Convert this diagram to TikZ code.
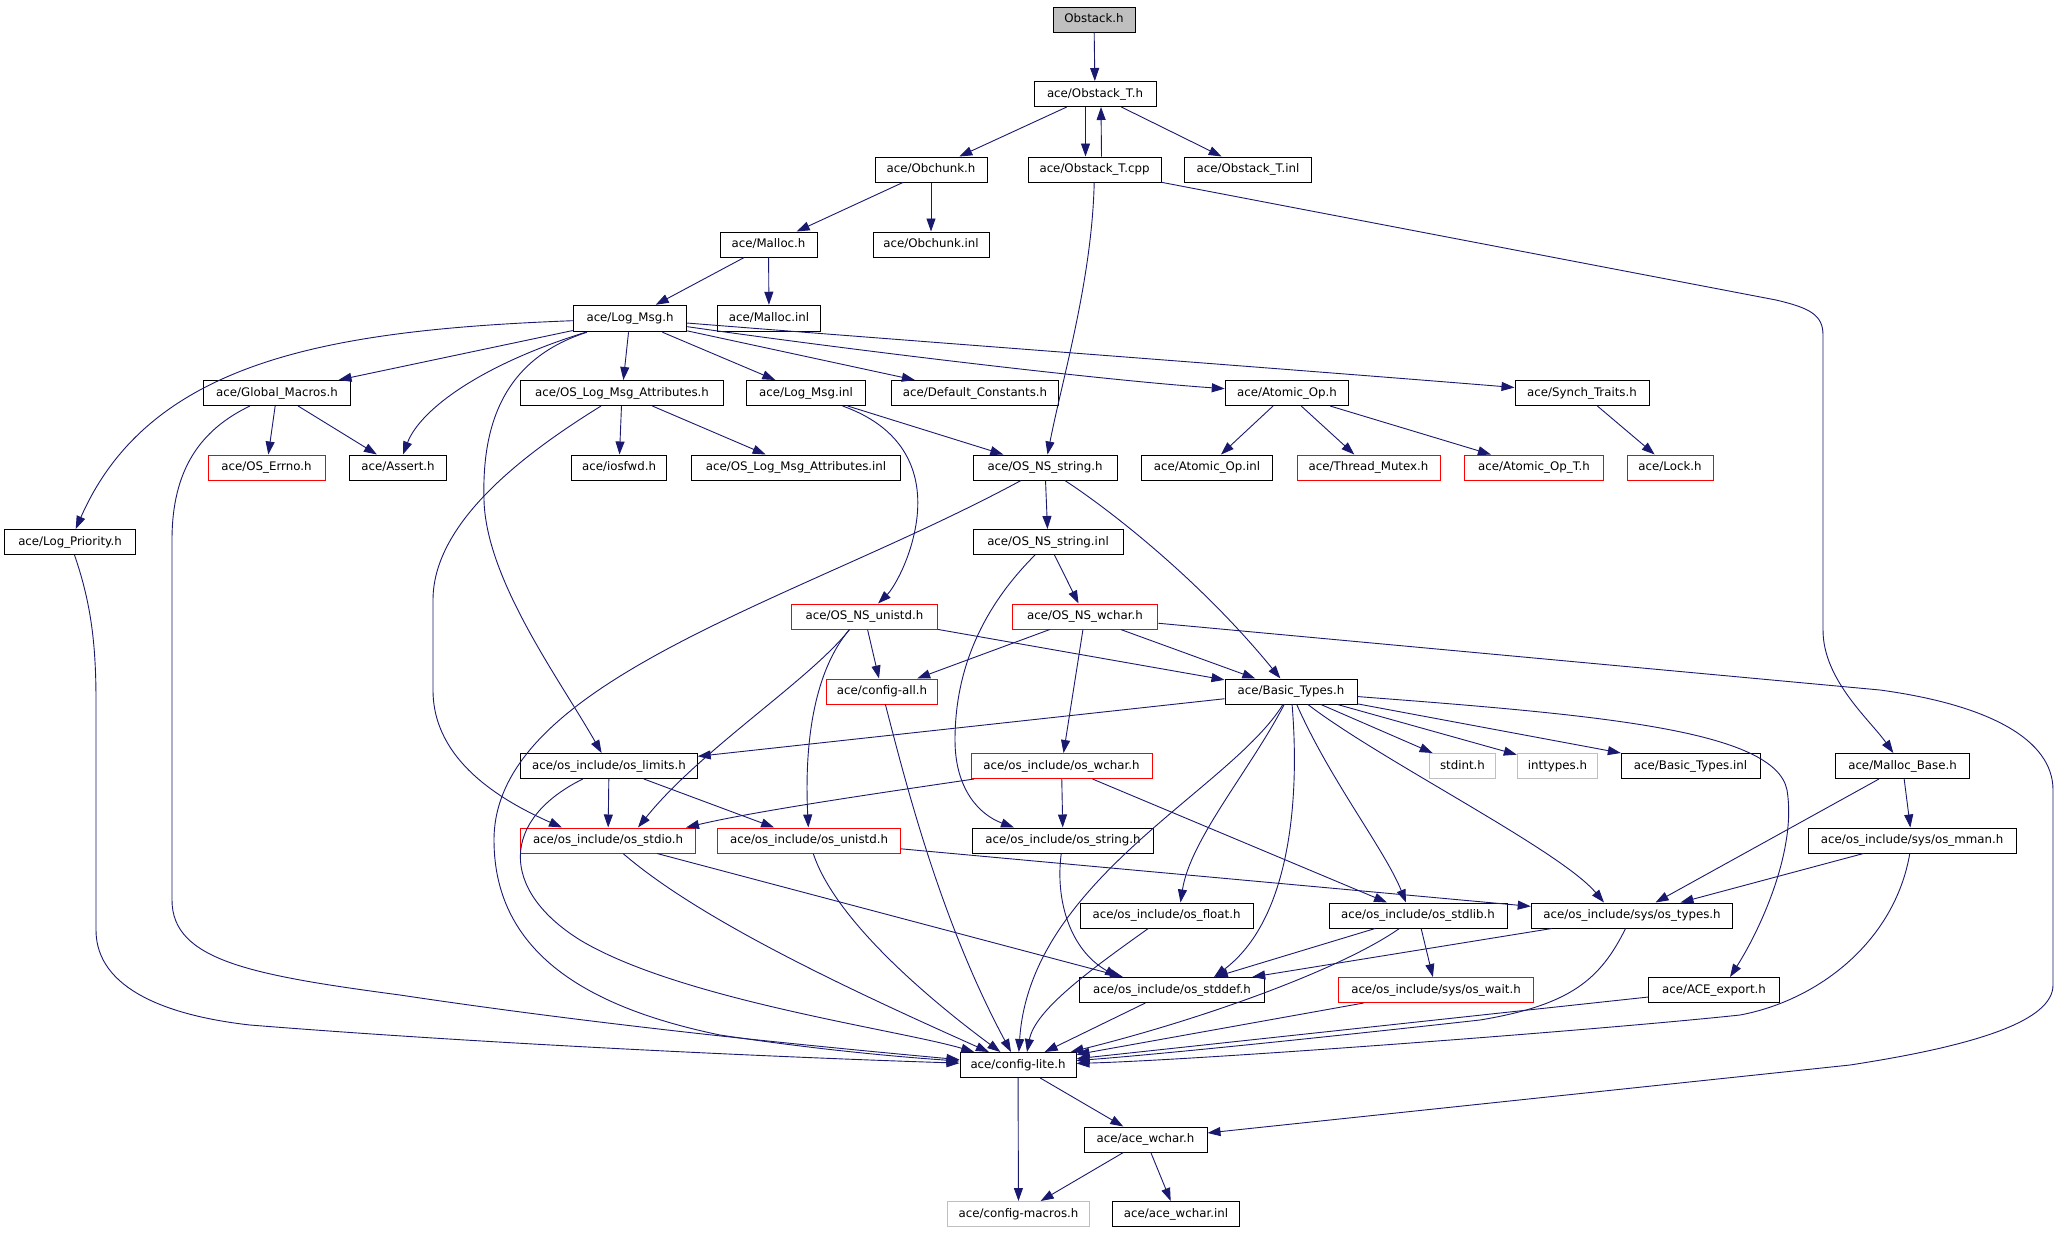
\documentclass[tikz,border=0pt]{standalone}
\usepackage{fontspec}
\setmainfont{DejaVu Sans}
\usetikzlibrary{arrows.meta}
\definecolor{edgecol}{HTML}{191970}
\definecolor{nodegray}{HTML}{BFBFBF}
\newcommand{\grfont}{\fontsize{11.8}{14}\selectfont}
\tikzset{
  box/.style={draw=black, fill=white, line width=1pt, inner sep=0pt, minimum height=25pt, font=\grfont, text height=9pt, text depth=2.5pt},
  redbox/.style={box, draw=red},
  graybox/.style={box, draw=nodegray},
  rootbox/.style={box, fill=nodegray},
  edge/.style={draw=edgecol, line width=0.9pt, -{Triangle[length=13pt,width=9pt]}}
}
\begin{document}
\begin{tikzpicture}[x=1pt,y=-1pt]
\fill[white] (0,0) rectangle (2072,1232);
\useasboundingbox (0,0) rectangle (2072,1232);
% nodes
\node[rootbox, minimum width=82pt] (obstack) at (1094,19.5) {Obstack.h};
\node[box, minimum width=122pt] (obT) at (1095,94) {ace/Obstack\_T.h};
\node[box, minimum width=112pt] (obchunk) at (931,169.5) {ace/Obchunk.h};
\node[box, minimum width=133pt] (obTcpp) at (1094.5,169.5) {ace/Obstack\_T.cpp};
\node[box, minimum width=126.5pt] (obTinl) at (1248,169.5) {ace/Obstack\_T.inl};
\node[box, minimum width=97pt] (malloc) at (768.5,244.5) {ace/Malloc.h};
\node[box, minimum width=116pt] (obchunkinl) at (931,244.5) {ace/Obchunk.inl};
\node[box, minimum width=113.5pt, minimum height=26.5pt] (logmsg) at (630,318.5) {ace/Log\_Msg.h};
\node[box, minimum width=103pt, minimum height=26.5pt] (mallocinl) at (769,318.5) {ace/Malloc.inl};
\node[box, minimum width=147.5pt] (gmacros) at (277,393) {ace/Global\_Macros.h};
\node[box, minimum width=203.5pt] (oslma) at (622,393) {ace/OS\_Log\_Msg\_Attributes.h};
\node[box, minimum width=118.5pt] (logmsginl) at (806,393) {ace/Log\_Msg.inl};
\node[box, minimum width=167pt] (defconst) at (975,393) {ace/Default\_Constants.h};
\node[box, minimum width=123.5pt] (atomicop) at (1287,393) {ace/Atomic\_Op.h};
\node[box, minimum width=134pt] (synch) at (1582,393) {ace/Synch\_Traits.h};
\node[redbox, minimum width=117pt] (oserrno) at (266.5,467.5) {ace/OS\_Errno.h};
\node[box, minimum width=97.5pt] (assert) at (398,467.5) {ace/Assert.h};
\node[box, minimum width=95.5pt] (iosfwd) at (619,467.5) {ace/iosfwd.h};
\node[box, minimum width=209.5pt] (oslmainl) at (796,467.5) {ace/OS\_Log\_Msg\_Attributes.inl};
\node[box, minimum width=144pt] (osnsstring) at (1045,467.5) {ace/OS\_NS\_string.h};
\node[box, minimum width=131pt] (atomicopinl) at (1207,467.5) {ace/Atomic\_Op.inl};
\node[redbox, minimum width=143pt] (threadmutex) at (1368.5,467.5) {ace/Thread\_Mutex.h};
\node[redbox, minimum width=138.6pt] (atomicopT) at (1534,467.5) {ace/Atomic\_Op\_T.h};
\node[redbox, minimum width=86pt] (lock) at (1670,467.5) {ace/Lock.h};
\node[box, minimum width=130.5pt] (logprio) at (70,542) {ace/Log\_Priority.h};
\node[box, minimum width=150pt] (osnsstringinl) at (1048,542) {ace/OS\_NS\_string.inl};
\node[redbox, minimum width=146pt] (osnsunistd) at (864.5,616.5) {ace/OS\_NS\_unistd.h};
\node[redbox, minimum width=145.6pt] (osnswchar) at (1085,616.5) {ace/OS\_NS\_wchar.h};
\node[redbox, minimum width=111.6pt] (configall) at (882,691.5) {ace/config-all.h};
\node[box, minimum width=132pt] (basictypes) at (1291,691.5) {ace/Basic\_Types.h};
\node[box, minimum width=176.4pt] (oslimits) at (609,766) {ace/os\_include/os\_limits.h};
\node[redbox, minimum width=181pt] (oswchar) at (1061.5,766) {ace/os\_include/os\_wchar.h};
\node[graybox, minimum width=66.4pt] (stdint) at (1462.5,766) {stdint.h};
\node[graybox, minimum width=80.4pt] (inttypes) at (1557.5,766) {inttypes.h};
\node[box, minimum width=139pt] (basicinl) at (1690.5,766) {ace/Basic\_Types.inl};
\node[box, minimum width=134pt] (mallocbase) at (1902.5,766) {ace/Malloc\_Base.h};
\node[redbox, minimum width=174.4pt] (osstdio) at (608,840.5) {ace/os\_include/os\_stdio.h};
\node[redbox, minimum width=183pt] (osunistd) at (809,840.5) {ace/os\_include/os\_unistd.h};
\node[box, minimum width=180.6pt] (osstring) at (1063,840.5) {ace/os\_include/os\_string.h};
\node[box, minimum width=208pt] (osmman) at (1912,840.5) {ace/os\_include/sys/os\_mman.h};
\node[box, minimum width=173pt] (osfloat) at (1166.5,915.5) {ace/os\_include/os\_float.h};
\node[box, minimum width=178pt] (osstdlib) at (1418,915.5) {ace/os\_include/os\_stdlib.h};
\node[box, minimum width=201.5pt] (ostypes) at (1632,915.5) {ace/os\_include/sys/os\_types.h};
\node[box, minimum width=184.6pt] (osstddef) at (1172,990) {ace/os\_include/os\_stddef.h};
\node[redbox, minimum width=194.5pt] (oswait) at (1436,990) {ace/os\_include/sys/os\_wait.h};
\node[box, minimum width=130.5pt] (aceexport) at (1714,990) {ace/ACE\_export.h};
\node[box, minimum width=116pt] (configlite) at (1018,1065) {ace/config-lite.h};
\node[box, minimum width=123pt] (acewchar) at (1145.5,1139.5) {ace/ace\_wchar.h};
\node[graybox, minimum width=142pt] (configmacros) at (1018.5,1214) {ace/config-macros.h};
\node[box, minimum width=127.4pt] (acewcharinl) at (1176,1214) {ace/ace\_wchar.inl};
% edges
\draw[edge] (obstack) -- (obT);
\draw[edge] (obT) -- (obchunk);
\draw[edge] ([xshift=-9.5pt]obT.south) -- ([xshift=-9pt]obTcpp.north);
\draw[edge] ([xshift=7pt]obTcpp.north) -- ([xshift=6pt]obT.south);
\draw[edge] (obT) -- (obTinl);
\draw[edge] (obchunk) -- (malloc);
\draw[edge] (obchunk) -- (obchunkinl);
\draw[edge] (obTcpp) .. controls (1092,280) and (1062,380) .. (osnsstring);
\draw[edge] (obTcpp) -- (1776,300) .. controls (1810,308) and (1823,315) .. (1823,335) -- (1823,630) .. controls (1823,680) and (1870,720) .. (mallocbase);
\draw[edge] (malloc) -- (logmsg);
\draw[edge] (malloc) -- (mallocinl);
\draw[edge] (logmsg) .. controls (330,330) and (150,360) .. (logprio);
\draw[edge] (logmsg) -- (gmacros);
\draw[edge] (logmsg) .. controls (480,365) and (420,410) .. (assert);
\draw[edge] (logmsg) .. controls (500,360) and (482,430) .. (484,500) .. controls (486,580) and (560,680) .. (oslimits);
\draw[edge] (logmsg) -- (oslma);
\draw[edge] (logmsg) -- (logmsginl);
\draw[edge] (logmsg) -- (defconst);
\draw[edge] (logmsg) .. controls (850,350) and (1100,380) .. (atomicop);
\draw[edge] (logmsg) .. controls (900,340) and (1300,370) .. (synch);
\draw[edge] (gmacros) -- (oserrno);
\draw[edge] (gmacros) -- (assert);
\draw[edge] (gmacros) .. controls (200,430) and (172,470) .. (172,540) -- (172,900) .. controls (172,960) and (250,975) .. (400,995) .. controls (600,1025) and (800,1045) .. (configlite);
\draw[edge] (logprio) .. controls (90,600) and (96,640) .. (96,700) -- (96,930) .. controls (96,990) and (170,1016) .. (250,1025) .. controls (500,1045) and (800,1058) .. (configlite);
\draw[edge] (oslma) -- (iosfwd);
\draw[edge] (oslma) -- (oslmainl);
\draw[edge] (oslma) .. controls (530,450) and (433,520) .. (433,600) -- (433,690) .. controls (433,760) and (500,800) .. ([xshift=-46pt]osstdio.north);
\draw[edge] (logmsginl) -- (osnsstring);
\draw[edge] (logmsginl) .. controls (910,430) and (925,480) .. (915,530) .. controls (908,565) and (892,590) .. (osnsunistd);
\draw[edge] (atomicop) -- (atomicopinl);
\draw[edge] (atomicop) -- (threadmutex);
\draw[edge] (atomicop) -- (atomicopT);
\draw[edge] (synch) -- (lock);
\draw[edge] (osnsstring) -- (osnsstringinl);
\draw[edge] (osnsstring) .. controls (1110,510) and (1200,580) .. (basictypes);
\draw[edge] (osnsstring) .. controls (800,600) and (494,680) .. (494,840) .. controls (494,960) and (600,1010) .. (720,1035) .. controls (820,1050) and (900,1057) .. (configlite);
\draw[edge] (osnsstringinl) -- (osnswchar);
\draw[edge] (osnsstringinl) .. controls (990,600) and (955,660) .. (955,740) .. controls (955,790) and (980,815) .. ([xshift=-49pt]osstring.north);
\draw[edge] (osnsunistd) -- (configall);
\draw[edge] (osnsunistd) -- (basictypes);
\draw[edge] ([xshift=-15pt]osnsunistd.south) .. controls (810,680) and (700,750) .. ([xshift=30pt]osstdio.north);
\draw[edge] ([xshift=-15pt]osnsunistd.south) .. controls (815,670) and (804,740) .. (osunistd);
\draw[edge] (osnswchar) -- (configall);
\draw[edge] (osnswchar) -- (basictypes);
\draw[edge] (osnswchar) -- (oswchar);
\draw[edge] (osnswchar) -- (1880,690) .. controls (1990,705) and (2053,740) .. (2053,790) -- (2053,985) .. controls (2053,1020) and (1980,1045) .. (1850,1065) -- (acewchar);
\draw[edge] (configall) .. controls (905,780) and (940,920) .. (configlite);
\draw[edge] (basictypes) -- (oslimits);
\draw[edge] (basictypes) -- (stdint);
\draw[edge] (basictypes) -- (inttypes);
\draw[edge] (basictypes) -- (basicinl);
\draw[edge] (basictypes) .. controls (1600,715) and (1775,730) .. (1787,790) .. controls (1797,850) and (1760,930) .. ([xshift=16pt]aceexport.north);
\draw[edge] (basictypes) .. controls (1250,770) and (1190,840) .. ([xshift=14pt]osfloat.north);
\draw[edge] (basictypes) .. controls (1300,800) and (1290,920) .. ([xshift=42pt]osstddef.north);
\draw[edge] (basictypes) .. controls (1330,780) and (1385,850) .. ([xshift=-12pt]osstdlib.north);
\draw[edge] (basictypes) .. controls (1380,760) and (1560,850) .. ([xshift=-28pt]ostypes.north);
\draw[edge] (basictypes) .. controls (1230,790) and (1030,880) .. (configlite);
\draw[edge] (oslimits) -- (osstdio);
\draw[edge] (oslimits) -- (osunistd);
\draw[edge] (oslimits) .. controls (500,820) and (500,890) .. (580,940) .. controls (680,1000) and (900,1030) .. (configlite);
\draw[edge] (oswchar) .. controls (900,790) and (760,810) .. ([xshift=78pt]osstdio.north);
\draw[edge] (oswchar) -- (osstring);
\draw[edge] (oswchar) -- (osstdlib);
\draw[edge] (mallocbase) -- (ostypes);
\draw[edge] (mallocbase) -- (osmman);
\draw[edge] (osstdio) -- (osstddef);
\draw[edge] (osstdio) .. controls (700,920) and (850,990) .. (configlite);
\draw[edge] (osunistd) -- (ostypes);
\draw[edge] (osunistd) .. controls (835,920) and (930,1000) .. (configlite);
\draw[edge] (osstring) .. controls (1055,900) and (1070,950) .. ([xshift=-54pt]osstddef.north);
\draw[edge] (osmman) -- (ostypes);
\draw[edge] (osmman) .. controls (1895,940) and (1820,1000) .. (1740,1015) .. controls (1600,1030) and (1200,1060) .. (configlite);
\draw[edge] (osfloat) .. controls (1090,970) and (1035,1010) .. ([xshift=9pt]configlite.north);
\draw[edge] (osstdlib) -- (osstddef);
\draw[edge] (osstdlib) -- (oswait);
\draw[edge] (osstdlib) .. controls (1340,970) and (1200,1020) .. (configlite);
\draw[edge] (ostypes) -- (osstddef);
\draw[edge] (ostypes) .. controls (1600,980) and (1570,1005) .. (1480,1020) .. controls (1300,1040) and (1150,1055) .. (configlite);
\draw[edge] (osstddef) -- (configlite);
\draw[edge] (oswait) -- (configlite);
\draw[edge] (aceexport) -- (configlite);
\draw[edge] (configlite) -- (configmacros);
\draw[edge] (configlite) -- (acewchar);
\draw[edge] (acewchar) -- (configmacros);
\draw[edge] (acewchar) -- (acewcharinl);
\end{tikzpicture}
\end{document}
